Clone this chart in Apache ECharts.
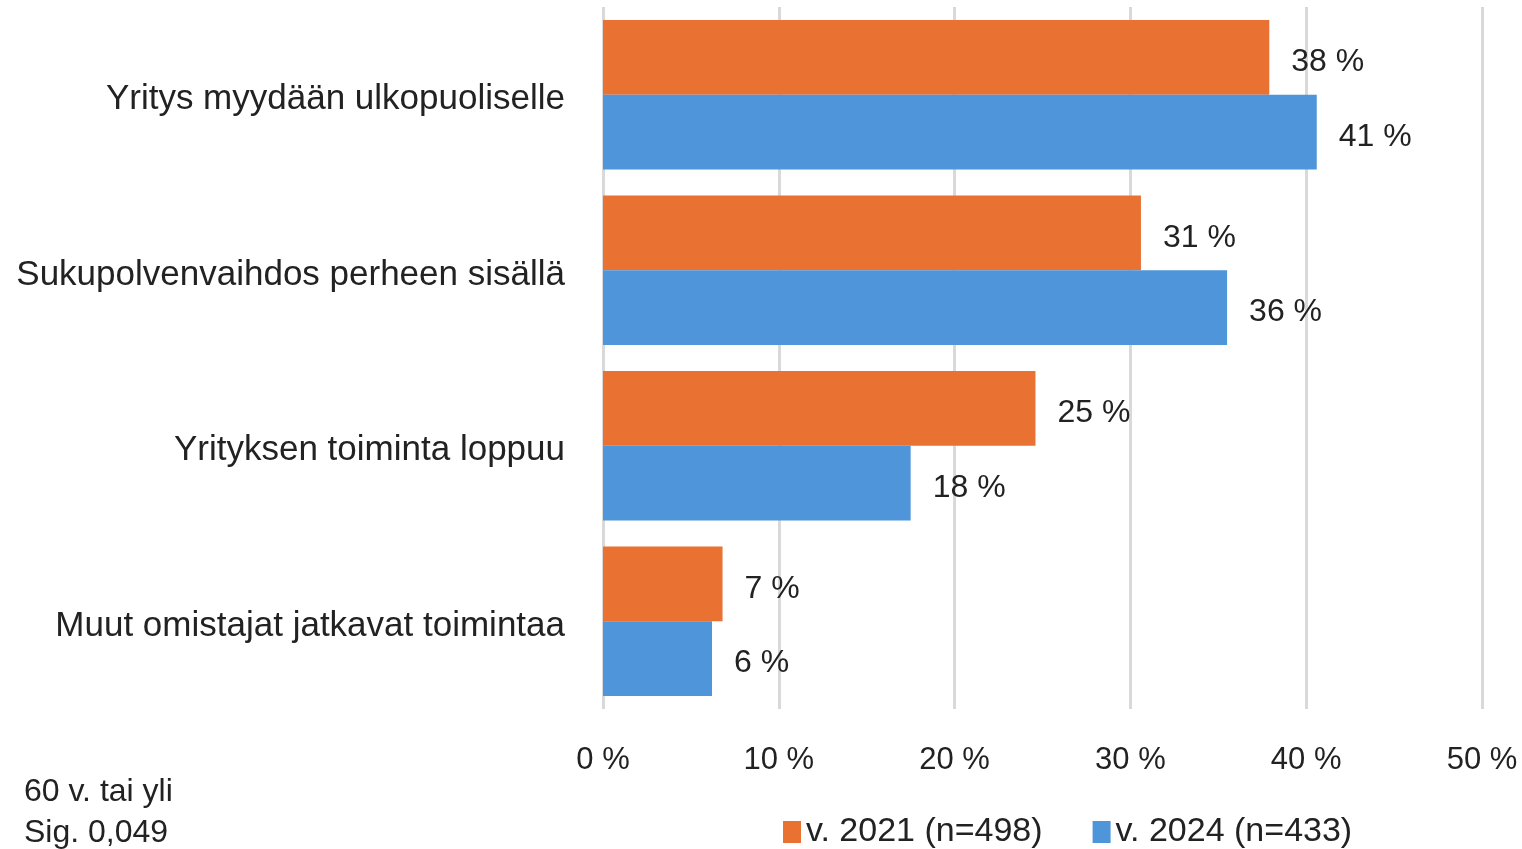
<!DOCTYPE html>
<html>
<head>
<meta charset="utf-8">
<script src="https://cdn.jsdelivr.net/npm/echarts@6/dist/echarts.min.js"></script>
<style>
  html, body { margin: 0; padding: 0; background: #fff; }
  #chart { width: 1522px; height: 849px; }
</style>
</head>
<body>
<div id="chart"></div>
<script>
// luokat ylhäältä alas
var categories = ['Yritys myydään ulkopuoliselle', 'Sukupolvenvaihdos perheen sisällä', 'Yrityksen toiminta loppuu', 'Muut omistajat jatkavat toimintaa'];
var values2021 = [37.9, 30.6, 24.6, 6.8];
var values2024 = [40.6, 35.5, 17.5, 6.2];
var seriesNames = ['v. 2021 (n=498)', 'v. 2024 (n=433)'];
var footnotes = ['60 v. tai yli', 'Sig. 0,049'];

function renderChart() {
    var dom = document.getElementById('chart');
    var myChart = echarts.init(dom);
    var fontFam = '"Liberation Sans", sans-serif';
    var textColor = '#222222';

    var barLabel = {
        show: true,
        position: 'right',
        distance: 22,
        offset: [0, 5],
        fontSize: 32,
        color: textColor,
        formatter: function(p) { return Math.round(p.value) + ' %'; }
    };

    var option = {
        backgroundColor: '#FFFFFF',
        textStyle: { fontFamily: fontFam, color: textColor },
        color: ['#E97132', '#4E95D9'],
        grid: {
            top: 7,
            bottom: 140,
            left: 603,
            right: 40
        },
        legend: {
            data: seriesNames,
            left: 778,
            top: 810,
            itemWidth: 18,
            itemHeight: 22,
            itemGap: 50,
            icon: 'rect',
            textStyle: { fontSize: 34, color: textColor, fontFamily: fontFam }
        },
        xAxis: {
            type: 'value',
            min: 0,
            max: 50,
            interval: 10,
            axisLine: { show: false },
            axisTick: { show: false },
            splitLine: { show: true, lineStyle: { color: '#D9D9D9', width: 3 } },
            axisLabel: {
                formatter: '{value} %',
                fontSize: 31,
                color: textColor,
                margin: 36
            }
        },
        yAxis: {
            type: 'category',
            data: categories,
            inverse: true,
            axisLine: { show: false },
            axisTick: { show: false },
            axisLabel: {
                color: textColor,
                margin: 38,
                formatter: function(v) { return '{c|' + v + '}'; },
                rich: {
                    c: { fontSize: 35, color: textColor, fontFamily: fontFam, padding: [10, 0, 0, 0] }
                }
            }
        },
        series: [{
            name: seriesNames[0],
            type: 'bar',
            data: values2021,
            barGap: '0%',
            barCategoryGap: '14.8%',
            label: barLabel
        }, {
            name: seriesNames[1],
            type: 'bar',
            data: values2024,
            barGap: '0%',
            barCategoryGap: '14.8%',
            label: barLabel
        }],
        graphic: [{
            type: 'text',
            left: 24,
            top: 776,
            style: { text: footnotes[0], fontSize: 32, fill: textColor, fontFamily: fontFam }
        }, {
            type: 'text',
            left: 24,
            top: 817,
            style: { text: footnotes[1], fontSize: 32, fill: textColor, fontFamily: fontFam }
        }]
    };

    myChart.setOption(option);

    window.onresize = function() {
        myChart.resize();
    };
}
renderChart();
</script>
</body>
</html>
